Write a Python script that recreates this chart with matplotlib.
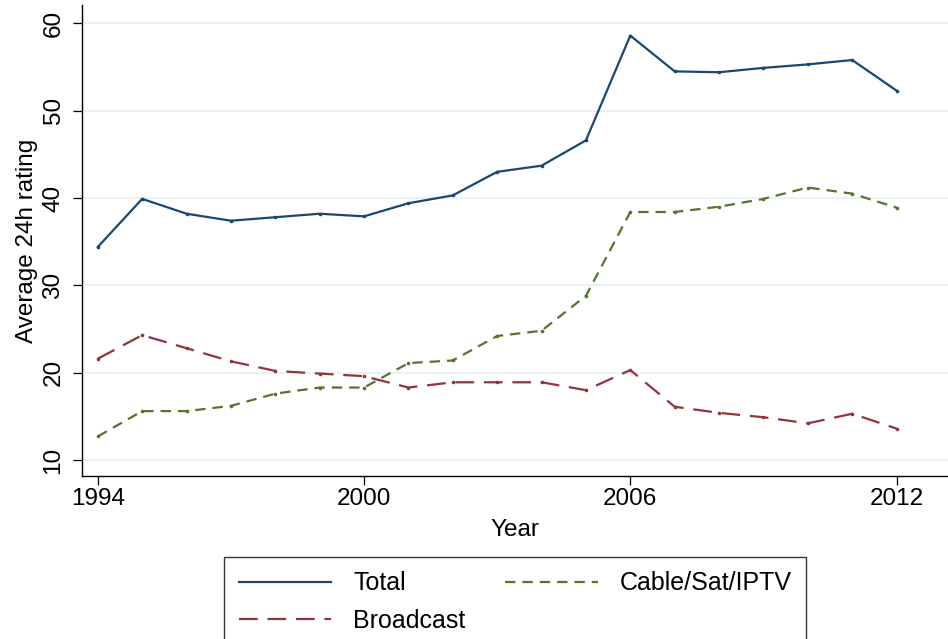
import matplotlib
matplotlib.use("Agg")
import matplotlib.pyplot as plt

plt.rcParams['font.family'] = ['Liberation Sans', 'DejaVu Sans']
plt.rcParams['lines.scale_dashes'] = False

years = list(range(1994, 2013))
total = [34.4, 39.9, 38.2, 37.4, 37.8, 38.2, 37.9, 39.4, 40.3, 43.0, 43.7,
         46.6, 58.6, 54.5, 54.4, 54.9, 55.3, 55.8, 52.3]
broadcast = [21.6, 24.3, 22.8, 21.3, 20.2, 19.9, 19.6, 18.3, 18.9, 18.9, 18.9,
             18.0, 20.3, 16.1, 15.4, 14.9, 14.2, 15.3, 13.6]
cable = [12.7, 15.6, 15.6, 16.2, 17.6, 18.3, 18.3, 21.1, 21.4, 24.2, 24.8,
         28.8, 38.4, 38.4, 39.0, 39.9, 41.2, 40.5, 38.9]
xticks = [1994, 2000, 2006, 2012]
yticks = [10, 20, 30, 40, 50, 60]

FS = 17.5
LFS = 18

fig = plt.figure(figsize=(9.48, 6.39), dpi=100)
ax = fig.add_axes([82.3/948, 1-476/639, 1-82.3/948, (476-5)/639])

for y in yticks:
    ax.axhline(y, color='#eaf2f3', lw=1.5, zorder=0)

l1, = ax.plot(years, total, color='#1a476f', lw=1.6, marker='o', ms=1.6,
              label='Total')
l3, = ax.plot(years, broadcast, color='#90353b', lw=1.6, marker='o', ms=1.6,
              dashes=(13.5, 7.0), label='Broadcast')
l2, = ax.plot(years, cable, color='#55752f', lw=1.6, marker='o', ms=1.6,
              dashes=(7.5, 5.0), label='Cable/Sat/IPTV')

ax.set_xlim(1993.65, 2013.16)
ax.set_ylim(8.17, 62.1)
ax.set_xticks(xticks)
ax.set_yticks(yticks)
ax.set_xticklabels([str(t) for t in xticks], fontsize=FS)
ax.set_yticklabels([str(t) for t in yticks], fontsize=FS, rotation=90,
                   va='center')
ax.tick_params(axis='both', direction='out', length=6.8, width=0.9,
               color='black')
ax.tick_params(axis='x', pad=2)
ax.tick_params(axis='y', pad=6)
for s in ['top', 'right']:
    ax.spines[s].set_visible(False)
for s in ['left', 'bottom']:
    ax.spines[s].set_linewidth(1.0)
ax.set_xlabel('Year', fontsize=FS, labelpad=6)
ax.set_ylabel('Average 24h rating', fontsize=FS, labelpad=3)

leg = fig.legend(handles=[l1, l3, l2],
                 labels=['Total', 'Broadcast', 'Cable/Sat/IPTV'],
                 ncol=2, loc='upper left',
                 bbox_to_anchor=(224/948, 1-557/639), borderaxespad=0,
                 fontsize=LFS, frameon=True, fancybox=False,
                 edgecolor='black', handlelength=3.7, handletextpad=0.88,
                 columnspacing=1.6, borderpad=0.58, labelspacing=0.52)
leg.get_frame().set_linewidth(1.0)
for h in leg.legend_handles:
    h.set_marker('')

fig.savefig('out.png', dpi=100)
